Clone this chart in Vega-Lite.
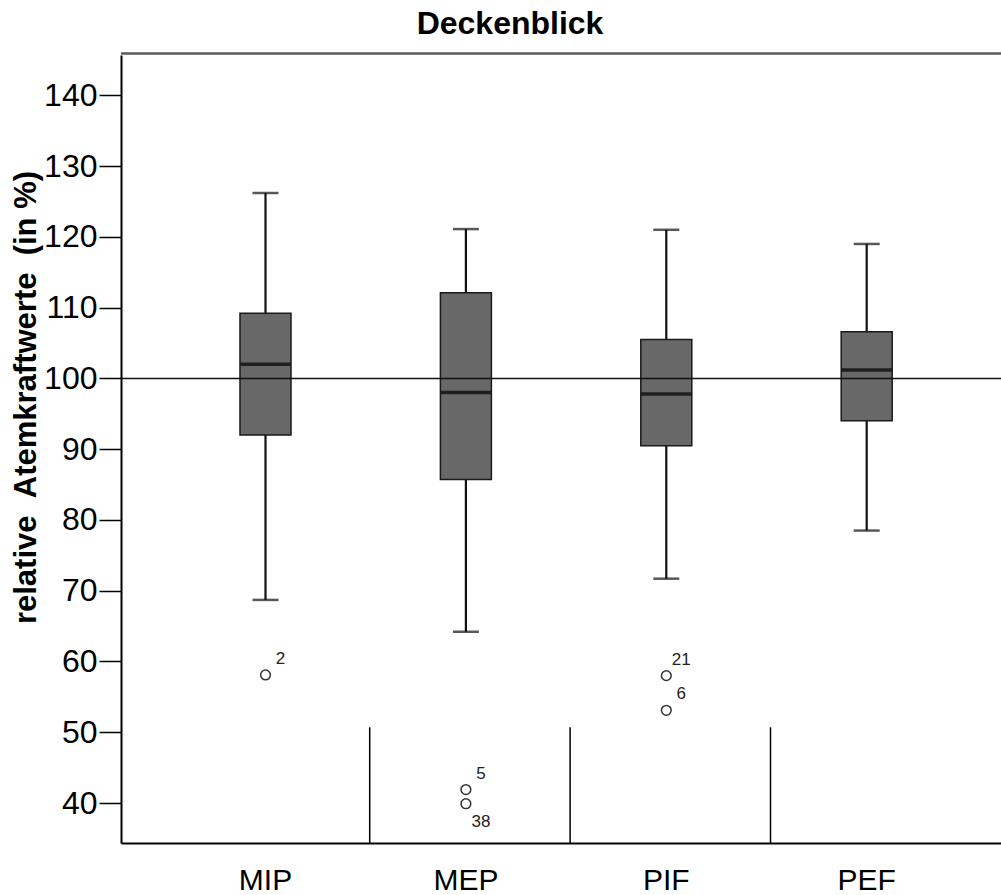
{
  "$schema": "https://vega.github.io/schema/vega-lite/v6.json",
  "width": 880,
  "height": 788,
  "autosize": "none",
  "padding": {"left": 121, "top": 55, "right": 0, "bottom": 52},
  "background": "white",
  "config": {"view": {"stroke": null}, "font": "Liberation Sans"},
  "title": {
    "text": "Deckenblick",
    "font": "Liberation Sans",
    "fontSize": 32,
    "fontWeight": "bold",
    "color": "#000000",
    "anchor": "middle",
    "dx": -51,
    "dy": 30,
    "baseline": "alphabetic",
    "offset": 16
  },
  "datasets": {
    "stats": [
      {"Variable": "MIP", "lower": 68.7, "q1": 92.0, "median": 102.0, "q3": 109.2, "upper": 126.2},
      {"Variable": "MEP", "lower": 64.2, "q1": 85.7, "median": 98.0, "q3": 112.1, "upper": 121.1},
      {"Variable": "PIF", "lower": 71.7, "q1": 90.5, "median": 97.8, "q3": 105.5, "upper": 121.0},
      {"Variable": "PEF", "lower": 78.5, "q1": 94.0, "median": 101.2, "q3": 106.6, "upper": 119.0}
    ],
    "outliers": [
      {"Variable": "MIP", "value": 58.1, "case": "2", "side": "above"},
      {"Variable": "MEP", "value": 41.9, "case": "5", "side": "above"},
      {"Variable": "MEP", "value": 39.9, "case": "38", "side": "below"},
      {"Variable": "PIF", "value": 58.0, "case": "21", "side": "above"},
      {"Variable": "PIF", "value": 53.1, "case": "6", "side": "above"}
    ],
    "separators": [
      {"Variable": "MEP", "from": 34.35, "to": 50.7},
      {"Variable": "PIF", "from": 34.35, "to": 50.7},
      {"Variable": "PEF", "from": 34.35, "to": 50.7}
    ]
  },
  "encoding": {
    "x": {
      "field": "Variable",
      "type": "nominal",
      "sort": ["MIP", "MEP", "PIF", "PEF"],
      "scale": {"domain": ["MIP", "MEP", "PIF", "PEF"], "paddingInner": 0, "paddingOuter": 0.1956, "align": 0.565},
      "axis": {
        "title": null,
        "labelAngle": 0,
        "labelFontSize": 30,
        "labelFont": "Liberation Sans",
        "labelColor": "#000000",
        "labelPadding": 22,
        "ticks": false,
        "tickSize": 0,
        "domainColor": "#000000",
        "domainWidth": 2,
        "grid": false
      }
    }
  },
  "layer": [
    {
      "data": {"name": "separators"},
      "mark": {"type": "rule", "color": "#000000", "strokeWidth": 1.5},
      "encoding": {
        "x": {"field": "Variable", "type": "nominal", "bandPosition": 0.02},
        "y": {
          "field": "from",
          "type": "quantitative",
          "scale": {"domain": [34.35, 145.7], "nice": false, "zero": false},
          "axis": {
            "values": [40, 50, 60, 70, 80, 90, 100, 110, 120, 130, 140],
            "grid": false,
            "tickSize": 22,
            "tickWidth": 1.5,
            "tickColor": "#000000",
            "domainColor": "#000000",
            "domainWidth": 2,
            "labelFontSize": 32,
            "labelFont": "Liberation Sans",
            "labelColor": "#000000",
            "labelPadding": 2,
            "title": "relative\u00a0\u00a0Atemkraftwerte\u00a0\u00a0(in\u00a0%)",
            "titleFont": "Liberation Sans",
            "titleFontSize": 31,
            "titleFontWeight": "bold",
            "titleColor": "#000000",
            "titleAngle": -90,
            "titleX": -95,
            "titleY": 342,
            "titleAlign": "center",
            "titleBaseline": "middle"
          }
        },
        "y2": {"field": "to"}
      }
    },
    {
      "data": {"name": "stats"},
      "mark": {"type": "rule", "color": "#111111", "strokeWidth": 2.2},
      "encoding": {
        "y": {"field": "lower", "type": "quantitative"},
        "y2": {"field": "q1"}
      }
    },
    {
      "data": {"name": "stats"},
      "mark": {"type": "rule", "color": "#111111", "strokeWidth": 2.2},
      "encoding": {
        "y": {"field": "q3", "type": "quantitative"},
        "y2": {"field": "upper"}
      }
    },
    {
      "data": {"name": "stats"},
      "mark": {"type": "tick", "color": "#111111", "size": 26, "thickness": 2.5, "orient": "horizontal"},
      "encoding": {
        "y": {"field": "lower", "type": "quantitative"}
      }
    },
    {
      "data": {"name": "stats"},
      "mark": {"type": "tick", "color": "#111111", "size": 26, "thickness": 2.5, "orient": "horizontal"},
      "encoding": {
        "y": {"field": "upper", "type": "quantitative"}
      }
    },
    {
      "data": {"name": "stats"},
      "mark": {"type": "bar", "size": 51, "fill": "#686868", "stroke": "#1a1a1a", "strokeWidth": 1.5},
      "encoding": {
        "y": {"field": "q1", "type": "quantitative"},
        "y2": {"field": "q3"}
      }
    },
    {
      "data": {"name": "stats"},
      "mark": {"type": "tick", "color": "#000000", "size": 50, "thickness": 3.5, "orient": "horizontal"},
      "encoding": {
        "y": {"field": "median", "type": "quantitative"}
      }
    },
    {
      "data": {"values": [{"ref": 100}]},
      "mark": {"type": "rule", "color": "#111111", "strokeWidth": 1.5},
      "encoding": {
        "x": null,
        "y": {"field": "ref", "type": "quantitative"}
      }
    },
    {
      "data": {"values": [{"top": 145.9}]},
      "mark": {"type": "rule", "color": "#5a5a5a", "strokeWidth": 2.5},
      "encoding": {
        "x": null,
        "y": {"field": "top", "type": "quantitative"}
      }
    },
    {
      "data": {"name": "outliers"},
      "mark": {"type": "point", "shape": "circle", "filled": false, "size": 95, "stroke": "#333333", "strokeWidth": 1.5, "opacity": 1},
      "encoding": {
        "y": {"field": "value", "type": "quantitative"}
      }
    },
    {
      "data": {"name": "outliers"},
      "transform": [{"filter": "datum.side === 'above'"}],
      "mark": {"type": "text", "font": "Liberation Sans", "fontSize": 17, "color": "#222222", "align": "center", "baseline": "middle", "dx": 15, "dy": -16},
      "encoding": {
        "y": {"field": "value", "type": "quantitative"},
        "text": {"field": "case", "type": "nominal"}
      }
    },
    {
      "data": {"name": "outliers"},
      "transform": [{"filter": "datum.side === 'below'"}],
      "mark": {"type": "text", "font": "Liberation Sans", "fontSize": 17, "color": "#222222", "align": "center", "baseline": "middle", "dx": 15, "dy": 18},
      "encoding": {
        "y": {"field": "value", "type": "quantitative"},
        "text": {"field": "case", "type": "nominal"}
      }
    }
  ]
}
